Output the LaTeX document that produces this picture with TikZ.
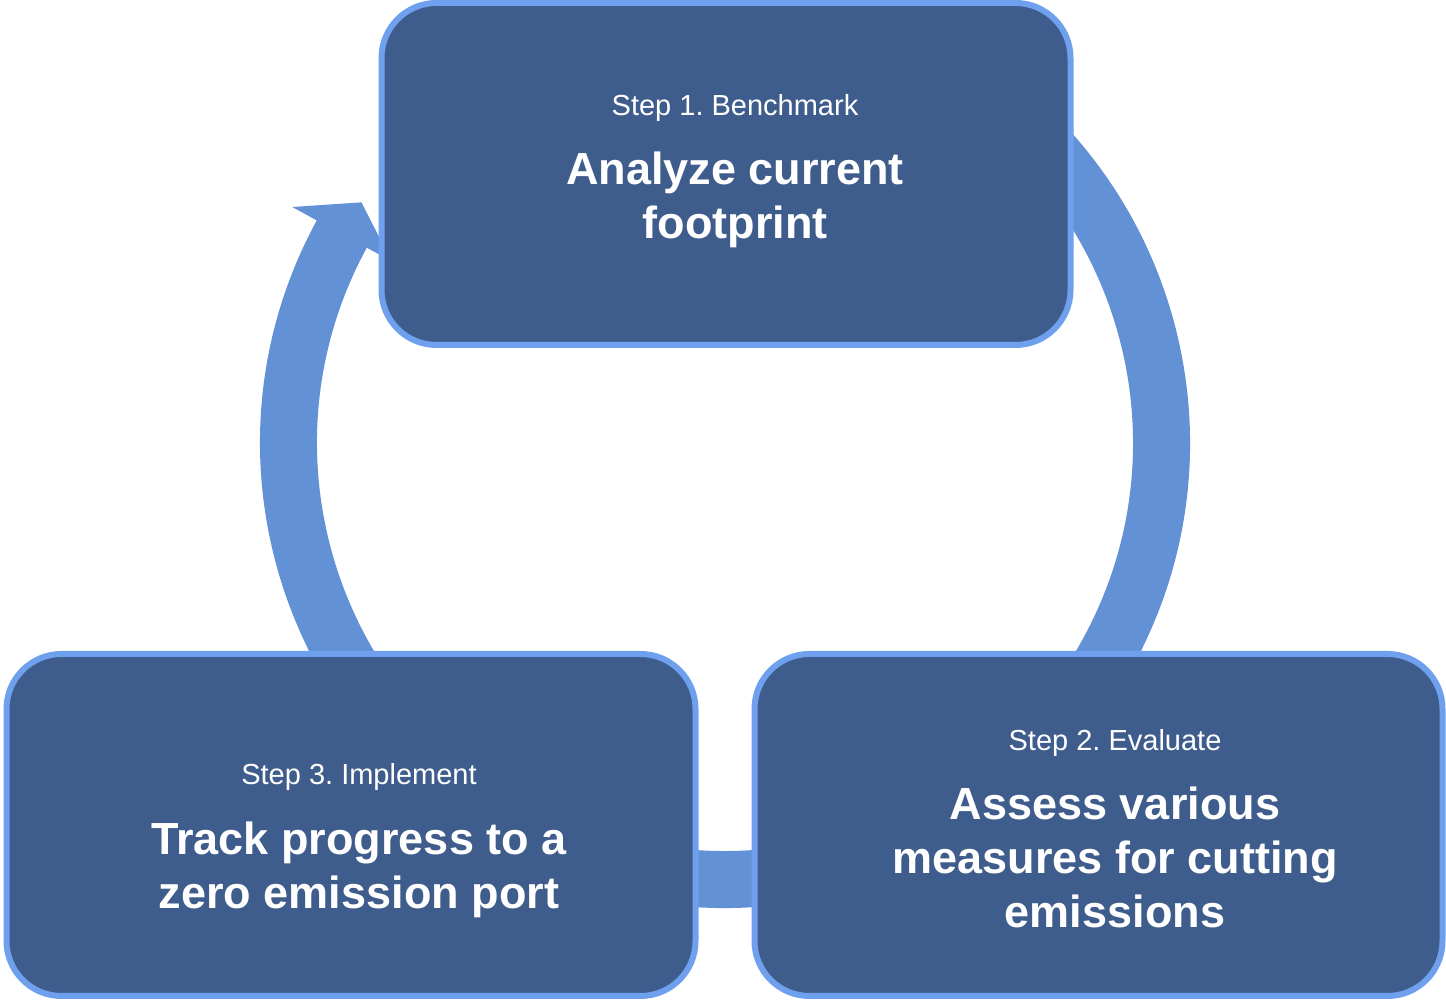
\documentclass[tikz,border=0pt]{standalone}
\usepackage{fontspec}
\setmainfont{Liberation Sans}
\frenchspacing
\definecolor{ringc}{RGB}{98,145,214}
\definecolor{boxfill}{RGB}{63,93,140}
\definecolor{boxedge}{RGB}{110,160,238}
\tikzset{
  stepbox/.style={draw=boxedge, line width=6pt, fill=boxfill, rounded corners=55pt, inner sep=0pt},
  steplabel/.style={text=white, anchor=base, font=\fontsize{29}{34}\selectfont},
  steptitle/.style={text=white, anchor=base, font=\fontsize{45}{54}\selectfont\bfseries},
}
\begin{document}
\begin{tikzpicture}[x=1pt,y=1pt]
\useasboundingbox (0,0) rectangle (1446,1000);
\coordinate (C) at (725,557);
% ring with arrowhead
\begin{scope}[shift={(C)}]
\fill[ringc] (60:465) arc[start angle=60, end angle=-208.6, radius=465]
  -- (-208.6:493) -- (-213.5:436) -- (-208.6:380) -- (-208.6:408)
  arc[start angle=-208.6, end angle=60, radius=408] -- cycle;
\end{scope}
% boxes
\node[stepbox, minimum width=689pt, minimum height=342pt] (b1) at (726,826) {};
\node[stepbox, minimum width=688pt, minimum height=342pt] (b2) at (1098.5,175) {};
\node[stepbox, minimum width=689pt, minimum height=342pt] (b3) at (351,175) {};
% texts box 1
\node[steplabel] (t1a) at (735,884) {Step 1. Benchmark};
\node[steptitle] (t1b) at (735,815) {Analyze current};
\node[steptitle] (t1c) at (735,761) {footprint};
% texts box 2
\node[steplabel] (t2a) at (1115,249) {Step 2. Evaluate};
\node[steptitle] (t2b) at (1115,180) {Assess various};
\node[steptitle] (t2c) at (1115,126) {measures for cutting};
\node[steptitle] (t2d) at (1115,72) {emissions};
% texts box 3
\node[steplabel] (t3a) at (359,215) {Step 3. Implement};
\node[steptitle] (t3b) at (359,145) {Track progress to a};
\node[steptitle] (t3c) at (359,91) {zero emission port};
\end{tikzpicture}
\end{document}
